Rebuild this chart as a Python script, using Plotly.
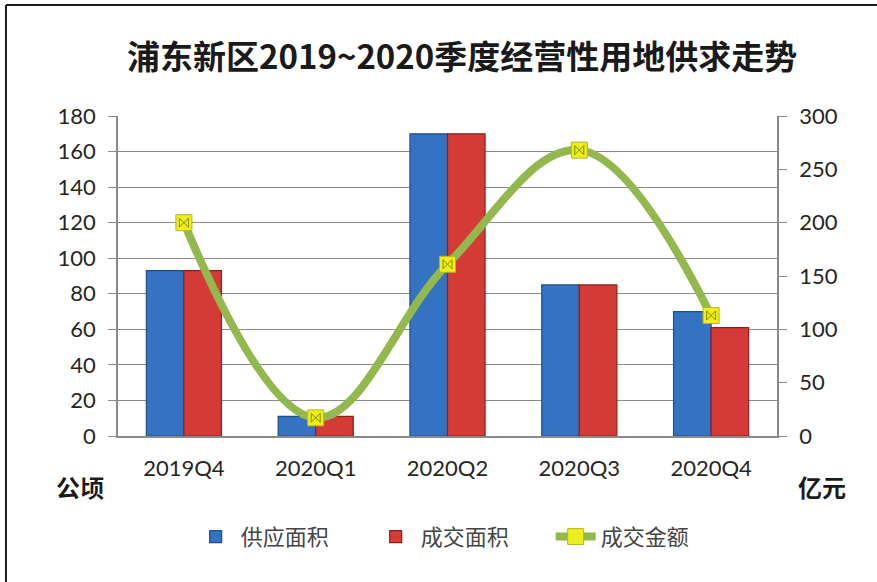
import plotly.graph_objects as go

quarters = ["2019Q4", "2020Q1", "2020Q2", "2020Q3", "2020Q4"]
supply_area = [93, 11, 170, 85, 70]      # 供应面积 (公顷)
deal_area = [93, 11, 170, 85, 61]        # 成交面积 (公顷)
deal_amount = [200, 17, 161, 268, 113]   # 成交金额 (亿元)

left_ticks = list(range(0, 181, 20))
right_ticks = list(range(0, 301, 50))

cjk = "Noto Sans CJK SC"
num_font = "Lato"

fig = go.Figure()

fig.add_trace(go.Bar(
    x=quarters, y=supply_area, name="供应面积",
    marker=dict(color="#3573C2", line=dict(color="#1F4E8C", width=1.2)),
))
fig.add_trace(go.Bar(
    x=quarters, y=deal_area, name="成交面积",
    marker=dict(color="#D53B36", line=dict(color="#8E1F1C", width=1.2)),
))
fig.add_trace(go.Scatter(
    x=quarters, y=deal_amount, name="成交金额", yaxis="y2",
    mode="lines+markers", line=dict(color="#92B84E", width=8, shape="spline", smoothing=1.1),
    marker=dict(symbol="square", size=16, color="#EEEE1A", line=dict(color="#B5B520", width=1)),
))
fig.add_trace(go.Scatter(
    x=quarters, y=deal_amount, yaxis="y2", mode="markers", showlegend=False,
    hoverinfo="skip",
    marker=dict(symbol="bowtie-open", size=9, color="#8A8A10", line=dict(width=1)),
))

fig.update_layout(
    width=877, height=582,
    margin=dict(l=118, r=100, t=116, b=146),
    paper_bgcolor="white", plot_bgcolor="white",
    barmode="group", bargap=0.43, bargroupgap=0,
    title=dict(
        text="<b>浦东新区2019~2020季度经营性用地供求走势</b>",
        x=0.527, xanchor="center", y=0.902, yanchor="middle",
        font=dict(family=cjk, size=33, color="#1a1a1a"),
    ),
    xaxis=dict(
        type="category", range=[-0.5, 4.5], showgrid=False,
        showline=True, linecolor="#8a8a8a", linewidth=1.5,
        ticks="", tickfont=dict(family=num_font, size=22, color="#262626"),
    ),
    yaxis=dict(
        range=[0, 180], tickvals=left_ticks, showgrid=True,
        gridcolor="#8c8c8c", gridwidth=1.2,
        showline=True, linecolor="#8a8a8a", linewidth=1.5,
        ticks="outside", ticklen=8, tickcolor="#8a8a8a",
        tickfont=dict(family=num_font, size=22, color="#262626"),
        zeroline=False,
    ),
    yaxis2=dict(
        range=[0, 300], tickvals=right_ticks, overlaying="y", side="right",
        showgrid=False, showline=True, linecolor="#8a8a8a", linewidth=1.5,
        ticks="outside", ticklen=8, tickcolor="#8a8a8a",
        tickfont=dict(family=num_font, size=22, color="#262626"),
        zeroline=False,
    ),
    legend=dict(
        orientation="h", x=0.52, xanchor="center", y=-0.315, yanchor="middle",
        font=dict(family=cjk, size=22, color="#444444"),
        itemwidth=40, traceorder="normal",
        entrywidth=125, entrywidthmode="pixels",
    ),
    showlegend=True,
)

fig.update_xaxes(ticklabelstandoff=12)
fig.update_yaxes(ticklabelstandoff=8)

fig.add_annotation(text="<b>公顷</b>", xref="paper", yref="paper",
                   x=-0.058, y=-0.158, xanchor="center", yanchor="middle", showarrow=False,
                   font=dict(family=cjk, size=24, color="#1a1a1a"))
fig.add_annotation(text="<b>亿元</b>", xref="paper", yref="paper",
                   x=1.068, y=-0.158, xanchor="center", yanchor="middle", showarrow=False,
                   font=dict(family=cjk, size=24, color="#1a1a1a"))

# frame lines along the top and left edges
fig.add_shape(type="line", xref="paper", yref="paper", x0=-0.17, x1=1.2, y0=1.347, y1=1.347,
              line=dict(color="#1a1a1a", width=2))
fig.add_shape(type="line", xref="paper", yref="paper", x0=-0.17, x1=-0.17, y0=1.347, y1=-0.46,
              line=dict(color="#1a1a1a", width=2))

fig.write_html("out.html")
